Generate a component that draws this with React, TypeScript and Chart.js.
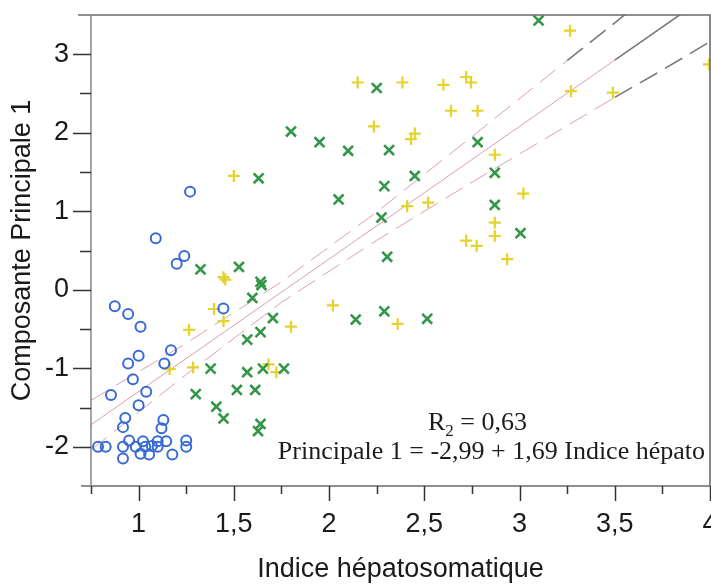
import React, { useEffect, useRef } from 'react';
import { Chart, registerables } from 'chart.js';

Chart.register(...registerables);

// ---- Data ----
const groupBlue: [number, number][] = [
  [1.27, 1.25], [1.09, 0.655], [1.24, 0.43], [1.2, 0.33], [0.875, -0.21], [0.945, -0.31],
  [1.01, -0.47], [1.445, -0.24], [1.17, -0.77], [1.0, -0.84], [0.945, -0.94], [1.135, -0.94],
  [0.97, -1.14], [1.04, -1.3], [0.855, -1.34], [1.0, -1.47], [0.93, -1.635], [1.13, -1.66],
  [0.918, -1.75], [1.12, -1.765], [0.787, -2.0], [0.827, -2.0], [0.918, -2.0], [0.95, -1.92],
  [0.985, -2.0], [1.023, -1.93], [1.035, -2.0], [1.07, -1.99], [1.1, -1.93], [1.1, -2.0],
  [1.145, -1.93], [1.25, -1.92], [1.25, -2.0], [0.918, -2.15], [1.01, -2.09], [1.055, -2.1],
  [1.177, -2.1],
];

const groupGreen: [number, number][] = [
  [1.63, 1.42], [1.8, 2.015], [1.95, 1.88], [2.1, 1.77], [2.25, 2.57], [2.315, 1.78],
  [2.45, 1.45], [2.29, 1.32], [2.05, 1.15], [2.275, 0.92], [2.305, 0.42], [2.14, -0.38],
  [2.29, -0.275], [2.515, -0.37], [2.78, 1.88], [3.1, 3.43], [2.87, 1.49], [2.87, 1.08],
  [3.005, 0.72], [1.325, 0.26], [1.527, 0.29], [1.64, 0.1], [1.645, 0.06], [1.597, -0.105],
  [1.705, -0.36], [1.64, -0.54], [1.57, -0.635], [1.378, -1.005], [1.57, -1.05], [1.653, -1.005],
  [1.763, -1.005], [1.3, -1.33], [1.516, -1.276], [1.612, -1.276], [1.408, -1.49], [1.446, -1.64],
  [1.64, -1.71], [1.627, -1.8],
];

const groupYellow: [number, number][] = [
  [1.5, 1.45], [2.15, 2.64], [2.385, 2.64], [2.6, 2.61], [2.72, 2.71], [2.745, 2.64],
  [2.64, 2.28], [2.78, 2.28], [2.235, 2.08], [2.45, 1.99], [2.43, 1.92], [2.52, 1.11],
  [2.41, 1.065], [3.265, 3.3], [3.27, 2.53], [3.49, 2.51], [3.995, 2.87], [2.87, 1.72],
  [3.02, 1.225], [2.87, 0.855], [2.87, 0.685], [2.775, 0.56], [2.72, 0.625], [2.935, 0.39],
  [2.02, -0.2], [2.36, -0.435], [1.8, -0.47], [1.445, 0.16], [1.455, 0.13], [1.396, -0.245],
  [1.446, -0.4], [1.265, -0.51], [1.286, -0.99], [1.163, -1.01], [1.682, -0.95], [1.723, -1.05],
];

// regression line and confidence band
const fitX = [0.75, 3.5, 4.0];
const fitY = [-1.72, 2.925, 3.77];
const bandX = [0.75, 1.25, 1.75, 2.25, 2.75, 3.25, 3.5, 3.75, 4.0];
const bandUpper = [-1.41, -0.68, 0.1, 0.99, 1.95, 2.92, 3.4, 3.89, 4.38];
const bandLower = [-2.04, -1.08, -0.16, 0.63, 1.37, 2.09, 2.45, 2.8, 3.16];

// axes
const xTickValues = [1, 1.5, 2, 2.5, 3, 3.5, 4];
const xMinorValues = [0.75, 1.25, 1.75, 2.25, 2.75, 3.25, 3.75];
const yTickValues = [-2, -1, 0, 1, 2, 3];
const yMinorValues = [-1.5, -0.5, 0.5, 1.5, 2.5];
const xTitle = 'Indice hépatosomatique';
const yTitle = 'Composante Principale 1';
const r2Label = '0,63';
const equationText = 'Principale 1 = -2,99 + 1,69 Indice hépato';

const PINK = 'rgb(218,160,172)';
const GRAY = 'rgb(120,120,120)';

const toPts = (xs: number[], ys: number[]) => xs.map((x, i) => ({ x, y: ys[i] }));
const fmt = (v: number) => String(v).replace('.', ',');

const decorPlugin = {
  id: 'decor',
  afterDraw(chart: any) {
    const { ctx, chartArea } = chart;
    const { left, right, top, bottom } = chartArea;
    const xs = chart.scales.x;
    const ys = chart.scales.y;
    ctx.save();
    // frame
    ctx.strokeStyle = '#6a6a6a';
    ctx.lineWidth = 1.6;
    ctx.beginPath();
    ctx.moveTo(left - 13, top);
    ctx.lineTo(right, top);
    ctx.lineTo(right, bottom);
    ctx.lineTo(left - 10, bottom);
    ctx.stroke();
    ctx.strokeStyle = '#8a8f94';
    ctx.beginPath();
    ctx.moveTo(left, top);
    ctx.lineTo(left, bottom);
    ctx.stroke();
    // ticks
    ctx.strokeStyle = '#333';
    ctx.lineWidth = 1.5;
    ctx.beginPath();
    xTickValues.forEach((v) => {
      const p = Math.round(xs.getPixelForValue(v)) + 0.5;
      ctx.moveTo(p, bottom);
      ctx.lineTo(p, bottom + 15);
    });
    xMinorValues.forEach((v) => {
      const p = Math.round(xs.getPixelForValue(v)) + 0.5;
      ctx.moveTo(p, bottom);
      ctx.lineTo(p, bottom + 8);
    });
    yTickValues.forEach((v) => {
      const p = Math.round(ys.getPixelForValue(v)) + 0.5;
      ctx.moveTo(left, p);
      ctx.lineTo(left - 18, p);
    });
    yMinorValues.forEach((v) => {
      const p = Math.round(ys.getPixelForValue(v)) + 0.5;
      ctx.moveTo(left, p);
      ctx.lineTo(left - 11, p);
    });
    ctx.stroke();

    // annotation text
    ctx.fillStyle = '#1c1c1c';
    ctx.textBaseline = 'alphabetic';
    ctx.font = '26px "Liberation Serif"';
    ctx.textAlign = 'right';
    ctx.fillText(equationText, right - 5, bottom - 27);
    ctx.textAlign = 'left';
    let tx = right - 282;
    const by = bottom - 56;
    ctx.fillText('R', tx, by);
    tx += ctx.measureText('R').width;
    ctx.font = '17px "Liberation Serif"';
    ctx.fillText('2', tx, by + 6);
    tx += ctx.measureText('2').width;
    ctx.font = '26px "Liberation Serif"';
    ctx.fillText(' = ' + r2Label, tx, by);
    ctx.restore();
  },
};

export default function App() {
  const canvasRef = useRef<HTMLCanvasElement | null>(null);

  useEffect(() => {
    if (!canvasRef.current) return;
    const seg = (from: number) => ({
      borderColor: (c: any) => (c.p0.parsed.x >= from ? GRAY : PINK),
      borderWidth: (c: any) => (c.p0.parsed.x >= from ? 1.6 : 1),
    });
    const chart = new Chart(canvasRef.current, {
      type: 'scatter',
      data: {
        datasets: [
          {
            label: 'groupe 1',
            data: groupBlue.map(([x, y]) => ({ x, y })),
            pointStyle: 'circle',
            pointRadius: 5,
            pointBorderWidth: 2,
            borderColor: 'rgb(55,105,215)',
            backgroundColor: 'rgba(0,0,0,0)',
            order: 0,
          },
          {
            label: 'groupe 2',
            data: groupGreen.map(([x, y]) => ({ x, y })),
            pointStyle: 'crossRot',
            pointRadius: 7,
            pointBorderWidth: 2.6,
            borderColor: 'rgb(52,150,72)',
            backgroundColor: 'rgb(52,150,72)',
            order: 1,
          },
          {
            label: 'groupe 3',
            data: groupYellow.map(([x, y]) => ({ x, y })),
            pointStyle: 'cross',
            pointRadius: 6,
            pointBorderWidth: 2.2,
            borderColor: 'rgb(228,210,45)',
            backgroundColor: 'rgb(228,210,45)',
            order: 2,
          },
          {
            label: 'fit',
            data: toPts(fitX, fitY),
            showLine: true,
            pointRadius: 0,
            borderColor: PINK,
            borderWidth: 1,
            segment: seg(3.5),
            order: 5,
          },
          {
            label: 'upper',
            data: toPts(bandX, bandUpper),
            showLine: true,
            pointRadius: 0,
            borderColor: PINK,
            borderWidth: 1,
            borderDash: [20, 9],
            segment: seg(3.25),
            order: 5,
          },
          {
            label: 'lower',
            data: toPts(bandX, bandLower),
            showLine: true,
            pointRadius: 0,
            borderColor: PINK,
            borderWidth: 1,
            borderDash: [20, 9],
            segment: seg(3.5),
            order: 5,
          },
        ],
      },
      options: {
        animation: false,
        responsive: true,
        maintainAspectRatio: false,
        layout: { autoPadding: false, padding: { top: 15, right: 1, left: 0, bottom: 0 } },
        plugins: { legend: { display: false }, tooltip: { enabled: false } },
        scales: {
          x: {
            type: 'linear',
            min: 0.75,
            max: 4.0,
            afterBuildTicks: (s: any) => {
              s.ticks = xTickValues.map((v) => ({ value: v }));
            },
            afterFit: (s: any) => {
              s.height = 98;
              s.paddingLeft = 0;
              s.paddingRight = 0;
            },
            ticks: {
              callback: (v: any) => fmt(Number(v)),
              font: { family: 'Liberation Sans', size: 27 },
              color: '#1a1a1a',
              padding: 7,
              maxRotation: 0,
              autoSkip: false,
            },
            grid: {
              display: true,
              drawOnChartArea: false,
              drawTicks: true,
              tickLength: 15,
              color: 'rgba(0,0,0,0)',
              tickColor: 'rgba(0,0,0,0)',
            },
            border: { display: false },
            title: {
              display: true,
              text: xTitle,
              font: { family: 'Liberation Sans', size: 27 },
              color: '#1a1a1a',
              padding: { top: 0, bottom: -2 },
            },
          },
          y: {
            type: 'linear',
            min: -2.5,
            max: 3.5,
            afterBuildTicks: (s: any) => {
              s.ticks = yTickValues.map((v) => ({ value: v }));
            },
            afterFit: (s: any) => {
              s.width = 91;
              s.paddingTop = 0;
              s.paddingBottom = 0;
            },
            ticks: {
              callback: (v: any) => fmt(Number(v)),
              font: { family: 'Liberation Sans', size: 27 },
              color: '#1a1a1a',
              padding: 4,
              autoSkip: false,
            },
            grid: {
              display: true,
              drawOnChartArea: false,
              drawTicks: true,
              tickLength: 18,
              color: 'rgba(0,0,0,0)',
              tickColor: 'rgba(0,0,0,0)',
            },
            border: { display: false },
            title: {
              display: true,
              text: yTitle,
              font: { family: 'Liberation Sans', size: 27 },
              color: '#1a1a1a',
              padding: { top: 6, bottom: 0 },
            },
          },
        },
      },
      plugins: [decorPlugin],
    } as any);
    return () => chart.destroy();
  }, []);

  return (
    <div style={{ position: 'fixed', left: 0, top: 0, width: 711, height: 584, background: '#fff' }}>
      <canvas ref={canvasRef} />
    </div>
  );
}
